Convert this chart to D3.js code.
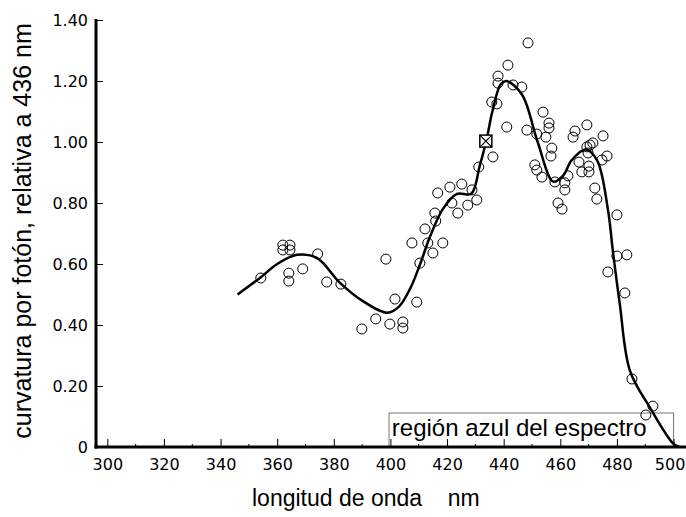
<!DOCTYPE html>
<html>
<head>
<meta charset="utf-8">
<script src="https://cdn.jsdelivr.net/npm/d3@7"></script>
<style>
body { margin: 0; background: #fff; }
</style>
</head>
<body>
<div id="chart"></div>
<script>
// wavelength (nm) / relative curvature per photon
var curveNm  = [346, 354, 360, 367, 374, 382, 390, 399, 403, 407, 410.5, 414, 418.5, 423.5, 428.5, 431.5, 434, 436, 439, 441, 446.5, 452, 457.5, 461, 464, 469, 473, 476.8, 478.6, 481, 484.6, 491.6, 499.7, 502];
var curveVal = [0.50, 0.555, 0.60, 0.63, 0.62, 0.54, 0.48, 0.44, 0.46, 0.52, 0.60, 0.69, 0.78, 0.83, 0.83, 0.92, 1.01, 1.10, 1.19, 1.20, 1.155, 1.00, 0.87, 0.89, 0.94, 0.975, 0.94, 0.78, 0.64, 0.47, 0.25, 0.13, 0.013, 0];

var pointNm  = [354.2, 362.0, 362.0, 364.5, 364.5, 364.1, 364.1, 369.0, 374.3, 377.5, 382.5, 389.9, 394.8, 398.4, 399.8, 404.4, 404.4, 401.6, 409.3, 410.4, 407.6, 413.2, 418.5, 415.0, 412.2, 416.0, 415.7, 416.7, 421.0, 425.2, 421.7, 423.8, 427.3, 428.8, 430.5, 431.2, 436.2, 441.1, 435.8, 437.6, 438.0, 438.0, 441.5, 443.3, 446.4, 448.6, 448.2, 453.9, 456.0, 456.0, 451.7, 454.9, 457.0, 456.7, 451.0, 451.7, 453.5, 458.1, 461.6, 461.6, 462.7, 459.2, 460.6, 464.5, 465.2, 469.4, 475.1, 470.5, 471.5, 469.4, 469.8, 466.6, 470.1, 470.1, 467.6, 474.7, 476.5, 472.2, 472.9, 480.0, 480.0, 483.5, 476.8, 482.8, 485.3, 492.7, 490.2];
var pointVal = [0.554, 0.662, 0.646, 0.662, 0.646, 0.570, 0.544, 0.584, 0.633, 0.541, 0.534, 0.387, 0.420, 0.616, 0.403, 0.410, 0.390, 0.485, 0.475, 0.603, 0.669, 0.669, 0.669, 0.636, 0.715, 0.741, 0.767, 0.833, 0.852, 0.862, 0.800, 0.767, 0.793, 0.843, 0.810, 0.918, 0.951, 1.049, 1.131, 1.125, 1.216, 1.193, 1.252, 1.187, 1.180, 1.325, 1.039, 1.098, 1.062, 1.046, 1.026, 1.016, 0.980, 0.954, 0.925, 0.908, 0.885, 0.869, 0.866, 0.843, 0.889, 0.800, 0.780, 1.016, 1.036, 1.056, 1.020, 0.990, 0.997, 0.984, 0.964, 0.934, 0.921, 0.902, 0.902, 0.941, 0.954, 0.849, 0.813, 0.761, 0.626, 0.630, 0.574, 0.505, 0.223, 0.134, 0.105];

// reference point (436 nm = 1.00)
var refNm = [433.7];
var refVal = [1.003];

var xTicks = [300, 320, 340, 360, 380, 400, 420, 440, 460, 480, 500];
var xMinor = [310, 330, 350, 370, 390, 410, 430, 450, 470, 490];
var yTicks = [0, 0.2, 0.4, 0.6, 0.8, 1.0, 1.2, 1.4];
var yTickLabels = ['0', '0.20', '0.40', '0.60', '0.80', '1.00', '1.20', '1.40'];

const width = 686;
const height = 517;

var x = d3.scaleLinear().domain([296, 504.4]).range([96, 686]);
var y = d3.scaleLinear().domain([0, 1.4]).range([447, 20]);

var svg = d3.select('#chart')
  .append('svg')
  .attr('width', width)
  .attr('height', height);

// blue region box
svg.append('rect')
  .attr('x', x(399.5))
  .attr('y', 413)
  .attr('width', x(500) - x(399.5))
  .attr('height', 34)
  .attr('fill', 'none')
  .attr('stroke', '#777')
  .attr('stroke-width', 1);

svg.append('text')
  .attr('x', x(400.5))
  .attr('y', 436)
  .text('región azul del espectro')
  .attr('font-family', 'Liberation Sans, Arial, sans-serif')
  .attr('font-size', '24px')
  .attr('fill', '#000');

// axes
var xAxis = svg.append('g')
  .attr('transform', 'translate(0,447)')
  .call(d3.axisBottom(x).tickValues(xTicks).tickSize(-8).tickPadding(12));
xAxis.select('.domain').remove();
xAxis.selectAll('text')
  .attr('font-family', 'DejaVu Sans, sans-serif')
  .attr('font-size', '16px')
  .attr('fill', '#000')
  .attr('dx', d => d == 500 ? -4 : 0);

svg.append('g')
  .attr('transform', 'translate(0,447)')
  .selectAll('line')
  .data(xMinor)
  .enter()
  .append('line')
  .attr('x1', d => x(d)).attr('x2', d => x(d))
  .attr('y1', 0).attr('y2', -3)
  .attr('stroke', '#000');

var yAxis = svg.append('g')
  .attr('transform', 'translate(96,0)')
  .call(d3.axisLeft(y).tickValues(yTicks).tickSize(-7).tickPadding(8)
    .tickFormat((d, i) => yTickLabels[i]));
yAxis.select('.domain').remove();
yAxis.selectAll('text')
  .attr('font-family', 'DejaVu Sans, sans-serif')
  .attr('font-size', '16px')
  .attr('fill', '#000');

svg.append('line')
  .attr('x1', 96).attr('x2', 96)
  .attr('y1', y(1.4) - 1).attr('y2', 448.5)
  .attr('stroke', '#000').attr('stroke-width', 3);
svg.append('line')
  .attr('x1', 94.5).attr('x2', 686)
  .attr('y1', 447).attr('y2', 447)
  .attr('stroke', '#000').attr('stroke-width', 3);

// axis titles
svg.append('text')
  .attr('transform', 'translate(31,231) rotate(-90)')
  .attr('text-anchor', 'middle')
  .text('curvatura por fotón, relativa a 436 nm')
  .attr('font-family', 'Liberation Sans, Arial, sans-serif')
  .attr('font-size', '25px');

svg.append('text')
  .attr('x', 252)
  .attr('y', 506)
  .attr('xml:space', 'preserve')
  .style('white-space', 'pre')
  .text('longitud de onda    nm')
  .attr('font-family', 'Liberation Sans, Arial, sans-serif')
  .attr('font-size', '23px');

// fitted curve
var line = d3.line()
  .x((d, i) => x(curveNm[i]))
  .y((d, i) => y(curveVal[i]))
  .curve(d3.curveCatmullRom.alpha(0.5));

svg.append('path')
  .attr('d', line(curveNm))
  .attr('fill', 'none')
  .attr('stroke', '#000')
  .attr('stroke-width', 2.5);

// measured points
svg.append('g')
  .selectAll('circle')
  .data(pointNm)
  .enter()
  .append('circle')
  .attr('cx', d => x(d))
  .attr('cy', (d, i) => y(pointVal[i]))
  .attr('r', 5)
  .attr('fill', 'none')
  .attr('stroke', '#000')
  .attr('stroke-width', 1);

// reference marker: box with a cross
var ref = svg.append('g')
  .selectAll('g')
  .data(refNm)
  .enter()
  .append('g')
  .attr('transform', (d, i) => 'translate(' + x(d) + ',' + y(refVal[i]) + ')');
ref.append('rect')
  .attr('x', -6).attr('y', -6).attr('width', 12).attr('height', 12)
  .attr('fill', '#fff').attr('stroke', '#000').attr('stroke-width', 1.5);
ref.append('path')
  .attr('d', 'M-6,-6L6,6M6,-6L-6,6')
  .attr('stroke', '#000').attr('stroke-width', 1.2);
</script>
</body>
</html>
